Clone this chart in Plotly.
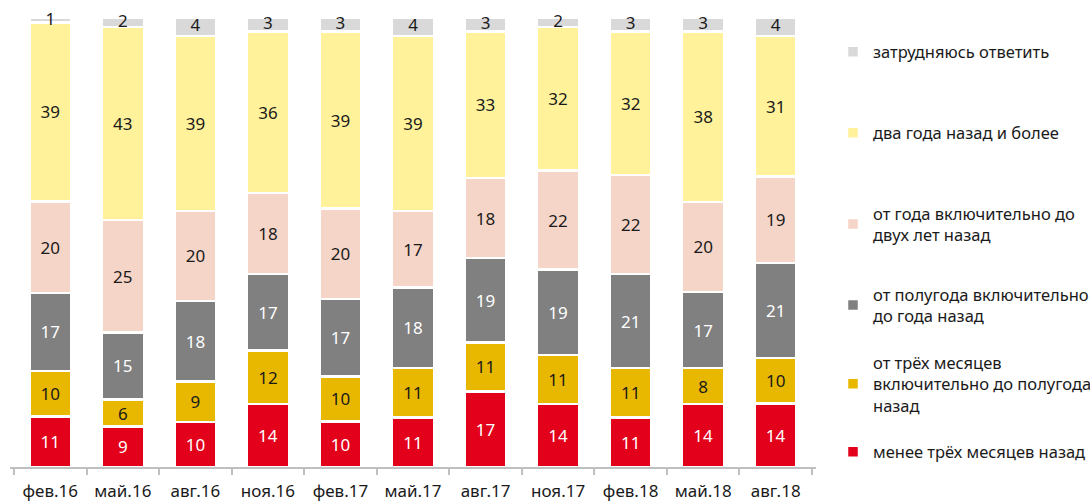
import plotly.graph_objects as go

# Survey periods (x axis)
periods = ["фев.16", "май.16", "авг.16", "ноя.16", "фев.17", "май.17",
           "авг.17", "ноя.17", "фев.18", "май.18", "авг.18"]

# Answer shares, %, bottom of the stack first
less_3m = [11, 9, 10, 14, 10, 11, 17, 14, 11, 14, 14]
from_3m_to_6m = [10, 6, 9, 12, 10, 11, 11, 11, 11, 8, 10]
from_6m_to_1y = [17, 15, 18, 17, 17, 18, 19, 19, 21, 17, 21]
from_1y_to_2y = [20, 25, 20, 18, 20, 17, 18, 22, 22, 20, 19]
two_years_plus = [39, 43, 39, 36, 39, 39, 33, 32, 32, 38, 31]
hard_to_say = [1, 2, 4, 3, 3, 4, 3, 2, 3, 3, 4]

series = [
    ("менее трёх месяцев назад", less_3m, "#E2001A", "white"),
    ("от трёх месяцев<br>включительно до полугода<br>назад", from_3m_to_6m, "#E8B800", "#1a1a1a"),
    ("от полугода включительно<br>до года назад", from_6m_to_1y, "#808080", "white"),
    ("от года включительно до<br>двух лет назад", from_1y_to_2y, "#F5D5C7", "#1a1a1a"),
    ("два года назад и более", two_years_plus, "#FFF29A", "#1a1a1a"),
    ("затрудняюсь ответить", hard_to_say, "#D9D9D9", "#1a1a1a"),
]

# vertical centre of each legend entry (px from the top of the page)
legend_centres = [452, 384, 305, 224, 133, 52]

FONT = "Noto Sans"
W, H = 1090, 503

fig = go.Figure()
n_series = len(series)
for i, (name, vals, color, txtcolor) in enumerate(series):
    legend_id = "legend" if i == 0 else f"legend{i + 1}"
    top = i == n_series - 1
    fig.add_trace(go.Bar(
        x=periods, y=vals, name=name,
        marker=dict(color=color, line=dict(color="white", width=2.5)),
        text=None if top else [str(v) for v in vals],
        textposition="none" if top else "inside",
        insidetextanchor="middle",
        textangle=0,
        textfont=dict(family=FONT, size=17, color=txtcolor),
        legend=legend_id,
        hoverinfo="x+y+name",
    ))

# The thin top segment is too short to hold its label, so the label is
# written over the centre of the segment (in the 100 % stacked scale).
totals = [sum(s[1][k] for s in series) for k in range(len(periods))]
below = [totals[k] - hard_to_say[k] for k in range(len(periods))]
top_mid = [(below[k] + hard_to_say[k] / 2) / totals[k] * 100 for k in range(len(periods))]
fig.add_trace(go.Scatter(
    x=periods, y=top_mid, mode="text",
    text=[str(v) for v in hard_to_say],
    textposition="middle center",
    textfont=dict(family=FONT, size=17, color="#1a1a1a"),
    cliponaxis=False, showlegend=False, hoverinfo="skip",
))

layout_legends = {}
for i, yc in enumerate(legend_centres):
    key = "legend" if i == 0 else f"legend{i + 1}"
    layout_legends[key] = dict(
        xref="container", yref="container",
        x=833 / W, y=1 - yc / H,
        xanchor="left", yanchor="middle",
        bgcolor="rgba(0,0,0,0)", borderwidth=0,
        font=dict(family=FONT, size=16.5, color="#1a1a1a"),
        itemwidth=30,
    )

fig.update_layout(
    width=W, height=H,
    margin=dict(l=10, r=274, t=18, b=36),
    barmode="stack",
    barnorm="percent",
    bargap=0.42,
    plot_bgcolor="white",
    paper_bgcolor="white",
    showlegend=True,
    uniformtext=dict(minsize=17, mode="show"),
    font=dict(family=FONT, size=17, color="#1a1a1a"),
    xaxis=dict(
        showgrid=False, zeroline=False, automargin=False,
        showline=True, linecolor="#BFBFBF", linewidth=2,
        ticks="outside", tickson="boundaries", ticklen=6,
        tickwidth=2, tickcolor="#BFBFBF",
        tickfont=dict(family=FONT, size=17, color="#1a1a1a"),
        ticklabelstandoff=8,
    ),
    yaxis=dict(range=[0, 100], visible=False, showgrid=False, zeroline=False),
    **layout_legends,
)

fig.write_html("out.html")
